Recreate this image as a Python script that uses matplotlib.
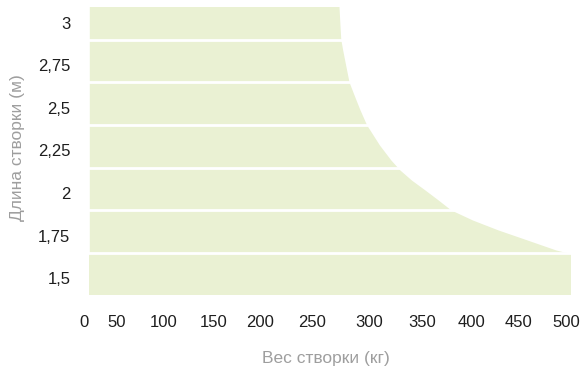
import matplotlib
matplotlib.use("Agg")
import matplotlib.pyplot as plt
import matplotlib.transforms as mtransforms

# ---- data ----
lengths = [1.5, 1.75, 2.0, 2.25, 2.5, 2.75, 3.0]
length_labels = ["1,5", "1,75", "2", "2,25", "2,5", "2,75", "3"]
weight_ticks = [0, 50, 100, 150, 200, 250, 300, 350, 400, 450, 500]
# visual positions of the weight tick labels in the reference (kg scale)
weight_tick_pos = [-5.5, 28.4, 77.5, 129.4, 177.2, 231.2, 290.3, 345.3, 396.2, 445.0, 494.8]
# max weight limit curve (length in m -> weight in kg)
curve_len = [3.10, 3.068, 2.992, 2.880, 2.816, 2.727, 2.628, 2.552, 2.464, 2.376,
             2.258, 2.169, 2.111, 2.052, 1.994, 1.935, 1.877, 1.818, 1.760, 1.701,
             1.642, 1.626, 1.625]
curve_kg = [259, 259.2, 259.9, 261.0, 263.0, 266.1, 269.6, 274.8, 281.0, 287.9,
            301.2, 313.2, 322.5, 334.5, 348.5, 362.3, 375.4, 397.8, 424.2, 454.4,
            484.4, 495.8, 495.8]
bottom_band_kg = 500

fill_color = "#EAF1D3"
tick_color = "#1e1e1e"
label_color = "#9e9e9e"

plt.rcParams["font.family"] = ["Liberation Sans", "DejaVu Sans"]

fig = plt.figure(figsize=(5.84, 3.67), dpi=100)
# axes in pixels: left 81.6, right 571, top 7, bottom 295.5
L, R, T, B = 81.6, 571.0, 7.0, 295.5
ax = fig.add_axes([L / 584, 1 - B / 367, (R - L) / 584, (B - T) / 367])

ax.set_xlim(-8, 500)
ax.set_ylim(1.375, 3.068)

half = 0.125
# bottom band
ax.fill_betweenx([lengths[0] - half, lengths[0] + half], 0, bottom_band_kg,
                 color=fill_color, linewidth=0)
# upper region bounded by the curve
ax.fill_betweenx(curve_len, 0, curve_kg, color=fill_color, linewidth=0)

# white separators between bands
for l in lengths[:-1]:
    ax.axhline(l + half, color="white", linewidth=2.0)

for s in ax.spines.values():
    s.set_visible(False)

ax.set_yticks(lengths)
ax.set_yticklabels(length_labels)
ax.set_xticks(weight_tick_pos)
ax.set_xticklabels([str(w) for w in weight_ticks])
ax.tick_params(axis="both", length=0, labelsize=12, labelcolor=tick_color)
ax.tick_params(axis="y", pad=8)
ax.tick_params(axis="x", pad=14)

offset = mtransforms.ScaledTranslation(0, -4 / 100, fig.dpi_scale_trans)
for lbl in ax.get_yticklabels():
    lbl.set_transform(lbl.get_transform() + offset)

ax.set_xlabel("Вес створки (кг)", fontsize=12.5, color=label_color, va="center")
ax.xaxis.set_label_coords(0.5, (B - 358) / (B - T))
ax.set_ylabel("Длина створки (м)", fontsize=12.5, color=label_color, va="center")
ax.yaxis.set_label_coords((18 - L) / (R - L), (B - 148) / (B - T))

fig.savefig("out.png", dpi=100)
